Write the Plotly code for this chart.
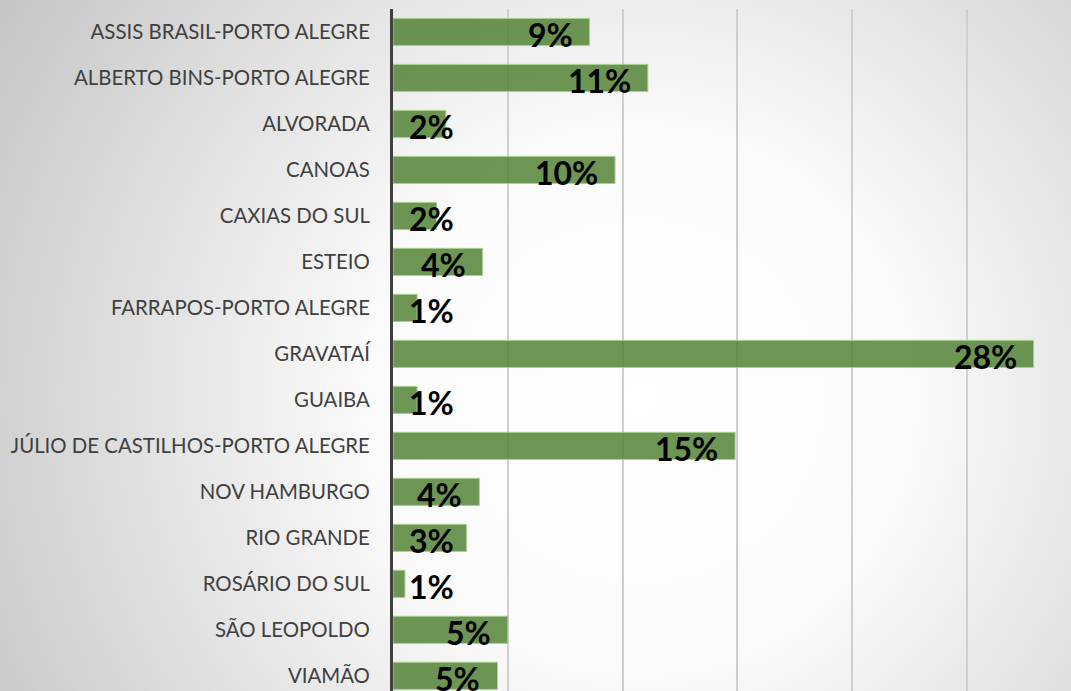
import base64
import plotly.graph_objects as go

categories = [
    "ASSIS BRASIL-PORTO ALEGRE", "ALBERTO BINS-PORTO ALEGRE", "ALVORADA", "CANOAS",
    "CAXIAS DO SUL", "ESTEIO", "FARRAPOS-PORTO ALEGRE", "GRAVATAÍ", "GUAIBA",
    "JÚLIO DE CASTILHOS-PORTO ALEGRE", "NOV HAMBURGO", "RIO GRANDE",
    "ROSÁRIO DO SUL", "SÃO LEOPOLDO", "VIAMÃO",
]
values = [8.56, 11.1, 2.3, 9.67, 1.9, 3.9, 1.05, 27.9, 1.05, 14.9, 3.76, 3.2, 0.52, 5.0, 4.55]
labels = [f"{v:.0f}%" for v in values]

W, H = 1071, 691
L, R, T, B = 393, 0, 9, 0
XMAX = 29.53
pw, ph = W - L - R, H - T - B
px_per = pw / XMAX

svg = f'''<svg xmlns="http://www.w3.org/2000/svg" width="{W}" height="{H}">
<defs><radialGradient id="g" cx="640" cy="400" r="760" gradientUnits="userSpaceOnUse">
<stop offset="0" stop-color="#ffffff"/><stop offset="0.35" stop-color="#fbfbfb"/>
<stop offset="1" stop-color="#c4c4c4"/></radialGradient></defs>
<rect width="{W}" height="{H}" fill="url(#g)"/></svg>'''
bg = "data:image/svg+xml;base64," + base64.b64encode(svg.encode()).decode()

fig = go.Figure()
fig.add_trace(go.Bar(
    y=categories, x=values, orientation="h",
    marker=dict(color="rgba(84,130,53,0.85)", line=dict(color="#a9d18e", width=1)),
    width=0.59, hoverinfo="skip",
))

annotations = []
for c, v, lab in zip(categories, values, labels):
    est_w = 22 * len(lab)
    if v * px_per - 16 - est_w < 15:
        annotations.append(dict(x=0, y=c, xref="x", yref="y", text=f"<b>{lab}</b>",
                                showarrow=False, xanchor="left", xshift=14, yshift=-3,
                                font=dict(family="Lato", size=32, color="#000000")))
    else:
        annotations.append(dict(x=v, y=c, xref="x", yref="y", text=f"<b>{lab}</b>",
                                showarrow=False, xanchor="right", xshift=-15, yshift=-3,
                                font=dict(family="Lato", size=32, color="#000000")))

fig.update_layout(
    width=W, height=H,
    margin=dict(l=L, r=R, t=T, b=B, pad=0),
    paper_bgcolor="white", plot_bgcolor="rgba(0,0,0,0)",
    showlegend=False,
    annotations=annotations,
    images=[dict(source=bg, xref="paper", yref="paper",
                 x=-L / pw, y=1 + T / ph, sizex=W / pw, sizey=H / ph,
                 xanchor="left", yanchor="top", sizing="stretch", layer="below")],
    xaxis=dict(range=[0, XMAX], dtick=5, showticklabels=False, showgrid=True,
               gridcolor="#cfcfcf", gridwidth=1.5, zeroline=False, showline=False, fixedrange=True),
    yaxis=dict(categoryorder="array", categoryarray=categories,
               range=[14.33, -0.5], showgrid=False, zeroline=False,
               showline=True, linecolor="#404040", linewidth=3,
               ticks="", ticklabelstandoff=16,
               tickfont=dict(family="Lato", size=20.4, color="#404040")),
)

fig.write_html("out.html", config={"displayModeBar": False},
               post_script="document.body.style.margin='0';document.body.style.overflow='hidden';")
